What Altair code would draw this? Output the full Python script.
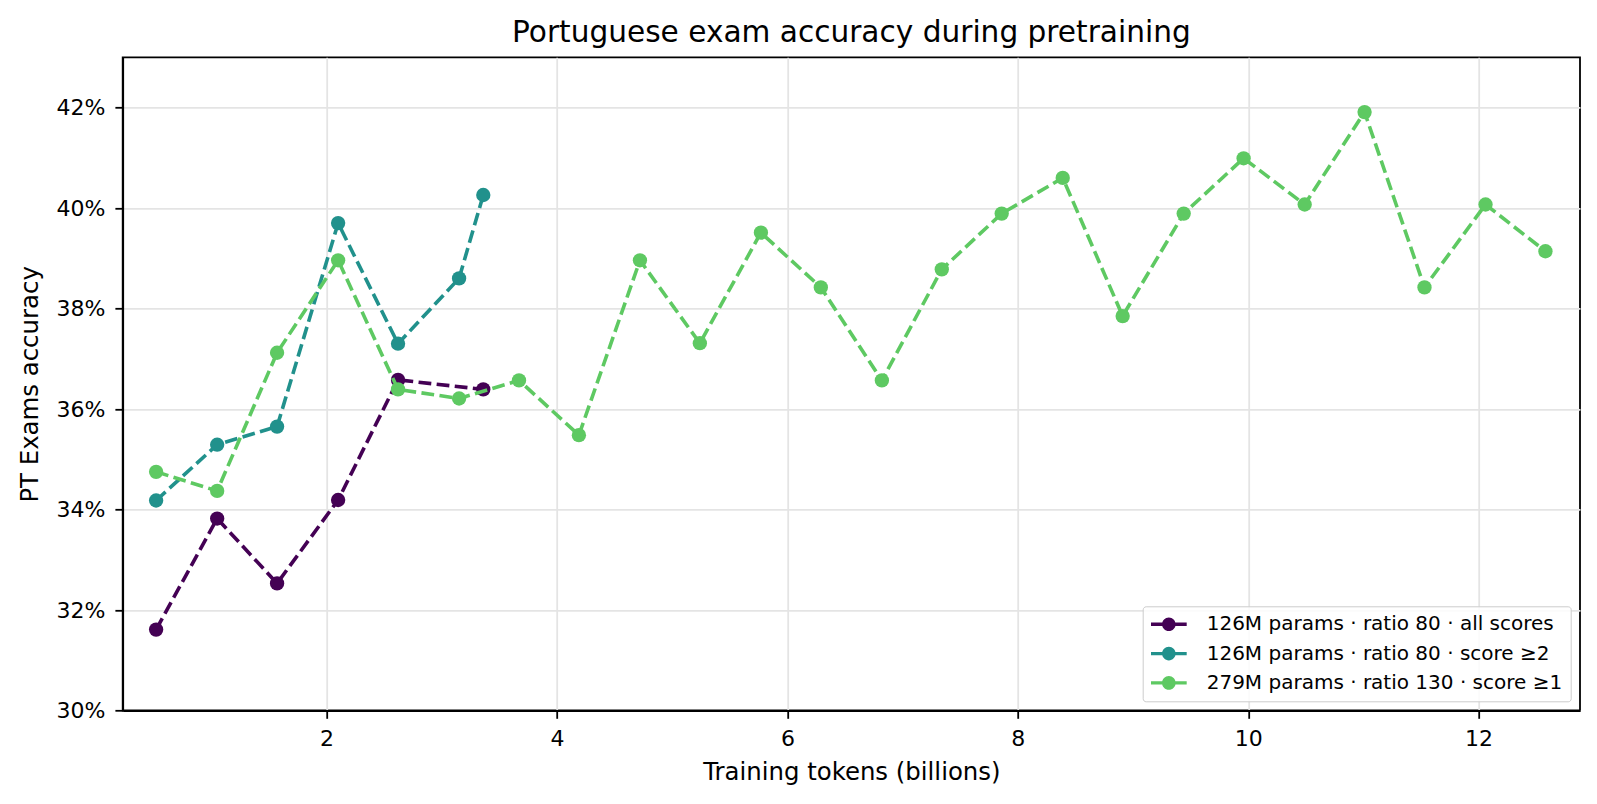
import altair as alt
import pandas as pd

series_names = [
    "126M params · ratio 80 · all scores",
    "126M params · ratio 80 · score ≥2",
    "279M params · ratio 130 · score ≥1",
]
series_colors = ["#440154", "#21918c", "#5ec962"]

x_all = [0.52, 1.05, 1.57, 2.10, 2.62, 3.36]
y_all = [31.61, 33.82, 32.53, 34.19, 36.58, 36.39]

x_ge2 = [0.52, 1.05, 1.57, 2.10, 2.62, 3.15, 3.36]
y_ge2 = [34.18, 35.29, 35.65, 39.70, 37.30, 38.60, 40.26]

x_ge1 = [0.52, 1.05, 1.57, 2.10, 2.62, 3.15, 3.67, 4.19, 4.72, 5.24, 5.77, 6.29,
         6.82, 7.34, 7.86, 8.39, 8.91, 9.44, 9.96, 10.49, 11.01, 11.53, 12.06, 12.58]
y_ge1 = [34.75, 34.37, 37.12, 38.96, 36.39, 36.21, 36.57, 35.48, 38.96, 37.31, 39.51, 38.42,
         36.57, 38.78, 39.89, 40.60, 37.85, 39.89, 40.99, 40.07, 41.91, 38.42, 40.07, 39.14]

x_ticks = [2, 4, 6, 8, 10, 12]
y_ticks = [30, 32, 34, 36, 38, 40, 42]

rows = []
for name, xs, ys in zip(series_names, [x_all, x_ge2, x_ge1], [y_all, y_ge2, y_ge1]):
    for xv, yv in zip(xs, ys):
        rows.append({"series": name, "tokens": xv, "acc": yv})
df = pd.DataFrame(rows)

FONT = "DejaVu Sans"
PLOT_W = 1457.3
PLOT_H = 653.2

x_enc = alt.X(
    "tokens:Q",
    scale=alt.Scale(domain=[0.23, 12.88], nice=False, zero=False),
    axis=alt.Axis(values=x_ticks, format="d", title="Training tokens (billions)",
                  titleY=50, titleBaseline="top"),
)
y_enc = alt.Y(
    "acc:Q",
    scale=alt.Scale(domain=[30, 43], nice=False, zero=False),
    axis=alt.Axis(values=y_ticks, labelExpr="datum.value + '%'", title="PT Exams accuracy",
                  titleX=-92.4, titleY=PLOT_H / 2, titleAngle=270, titleAlign="center",
                  titleBaseline="middle"),
)

fill_scale = alt.Scale(domain=series_names, range=series_colors)

symbol_path = ("M-0.97,-0.17L2.6,-0.17L2.6,0.17L-0.97,0.17Z "
               "M1.495,0A0.68,0.68 0 1,1 0.135,0A0.68,0.68 0 1,1 1.495,0Z")

legend = alt.Legend(
    title=None,
    orient="bottom-right",
    offset=9,
    symbolType=symbol_path,
    symbolSize=400,
    symbolStrokeWidth=0,
    symbolOpacity=1,
    labelFont=FONT,
    labelFontSize=20,
    labelColor="black",
    labelOffset=36.0,
    labelLimit=600,
    padding=8,
    rowPadding=9.3,
    strokeColor="#cccccc",
    fillColor="rgba(255,255,255,0.85)",
    cornerRadius=3,
)

layers = []
for name, col in zip(series_names, series_colors):
    sub = alt.Chart(df).transform_filter(alt.datum.series == name)
    line = sub.mark_line(strokeDash=[12.8, 5.4], strokeWidth=3.6, color=col).encode(
        x=x_enc, y=y_enc,
    )
    pts = sub.mark_point(filled=True, size=205, opacity=1, strokeWidth=0).encode(
        x=x_enc, y=y_enc,
        fill=alt.Fill("series:N", scale=fill_scale, legend=legend),
    )
    layers += [line, pts]

chart = alt.layer(*layers).properties(
    width=PLOT_W,
    height=PLOT_H,
    autosize=alt.AutoSizeParams(type="none"),
    padding={"left": 114.7, "top": 49.3, "right": 9, "bottom": 80},
    title=alt.TitleParams(
        text="Portuguese exam accuracy during pretraining",
        font=FONT, fontSize=29.6, fontWeight="normal", color="black",
        anchor="middle", offset=9,
    ),
    background="white",
).configure_view(
    stroke="black", strokeWidth=1.8
).configure_axis(
    labelFont=FONT, labelFontSize=22, labelColor="black", labelPadding=10,
    titleFont=FONT, titleFontSize=24.4, titleColor="black", titleFontWeight="normal",
    tickColor="black", tickWidth=1.8, tickSize=7.8,
    domainColor="black", domainWidth=1.8,
    grid=True, gridColor="#e4e4e4", gridWidth=1.8,
)

chart.save("out.html", embed_options={"renderer": "svg", "actions": False})
